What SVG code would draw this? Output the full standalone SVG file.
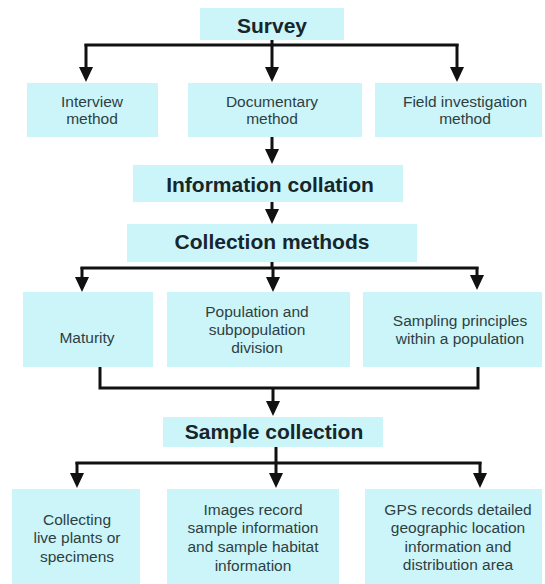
<svg xmlns="http://www.w3.org/2000/svg" width="545" height="584" viewBox="0 0 545 584">
<defs>
<style>
.box{fill:#ccf5fa;}
.t{font-family:"Liberation Sans",Arial,sans-serif;font-size:15.5px;fill:#2e3f42;text-anchor:middle;}
.b{font-family:"Liberation Sans",Arial,sans-serif;font-size:21px;font-weight:bold;fill:#17262a;text-anchor:middle;}
.c{fill:none;stroke:#111;stroke-width:3;}
.a{fill:none;stroke:#111;stroke-width:3;marker-end:url(#ah);}
</style>
<marker id="ah" markerUnits="userSpaceOnUse" markerWidth="15" markerHeight="14" viewBox="0 0 15 14" refX="11" refY="7" orient="auto">
<path d="M0,0 L15,7 L0,14 Z" fill="#111"/>
</marker>
</defs>
<rect width="545" height="584" fill="#fff"/>

<g id="survey"><rect class="box" x="200" y="8" width="144" height="32"/><text class="b" x="272" y="33">Survey</text></g>
<g id="interview"><rect class="box" x="27" y="83" width="131" height="54"/><text class="t" x="92" y="107">Interview</text><text class="t" x="92" y="124">method</text></g>
<g id="documentary"><rect class="box" x="188" y="83" width="174" height="54"/><text class="t" x="272" y="107">Documentary</text><text class="t" x="272" y="124">method</text></g>
<g id="field"><rect class="box" x="375" y="83" width="167" height="54"/><text class="t" x="465" y="107">Field investigation</text><text class="t" x="465" y="124">method</text></g>
<g id="collation"><rect class="box" x="133" y="165" width="270" height="37"/><text class="b" x="270" y="192">Information collation</text></g>
<g id="collection"><rect class="box" x="127" y="224" width="290" height="38"/><text class="b" x="272" y="249">Collection methods</text></g>
<g id="maturity"><rect class="box" x="23" y="292" width="130" height="75"/><text class="t" x="87" y="343">Maturity</text></g>
<g id="population"><rect class="box" x="167" y="292" width="183" height="75"/><text class="t" x="257" y="317">Population and</text><text class="t" x="257" y="335">subpopulation</text><text class="t" x="257" y="353">division</text></g>
<g id="sampling"><rect class="box" x="363" y="292" width="179" height="75"/><text class="t" x="460" y="326">Sampling principles</text><text class="t" x="460" y="344">within a population</text></g>
<g id="sample"><rect class="box" x="163" y="417" width="220" height="30"/><text class="b" x="274" y="439">Sample collection</text></g>
<g id="live"><rect class="box" x="12" y="489" width="128" height="95"/><text class="t" x="77" y="525">Collecting</text><text class="t" x="77" y="543">live plants or</text><text class="t" x="77" y="562">specimens</text></g>
<g id="images"><rect class="box" x="167" y="489" width="172" height="95"/><text class="t" x="253" y="515">Images record</text><text class="t" x="253" y="533">sample information</text><text class="t" x="253" y="552">and sample habitat</text><text class="t" x="253" y="571">information</text></g>
<g id="gps"><rect class="box" x="365" y="489" width="177" height="95"/><text class="t" x="458" y="515">GPS records detailed</text><text class="t" x="458" y="533">geographic location</text><text class="t" x="458" y="552">information and</text><text class="t" x="458" y="570">distribution area</text></g>

<g id="connectors">
<path class="c" d="M272,40 V45 M84.5,45 H458.5"/>
<path class="a" d="M86,44 V78"/>
<path class="a" d="M272,44 V78"/>
<path class="a" d="M457,44 V78"/>
<path class="a" d="M272,137 V160"/>
<path class="a" d="M272,202 V220"/>
<path class="c" d="M272,262 V268 M80.5,268 H478.5"/>
<path class="a" d="M82,267 V288"/>
<path class="a" d="M273,267 V288"/>
<path class="a" d="M477,267 V286"/>
<path class="c" d="M100,367 V388 H478 V367"/>
<path class="a" d="M273,388 V412"/>
<path class="c" d="M276,447 V463 M75.5,463 H481.5"/>
<path class="a" d="M77,462 V484"/>
<path class="a" d="M276,462 V484"/>
<path class="a" d="M480,462 V484"/>
</g>
</svg>
